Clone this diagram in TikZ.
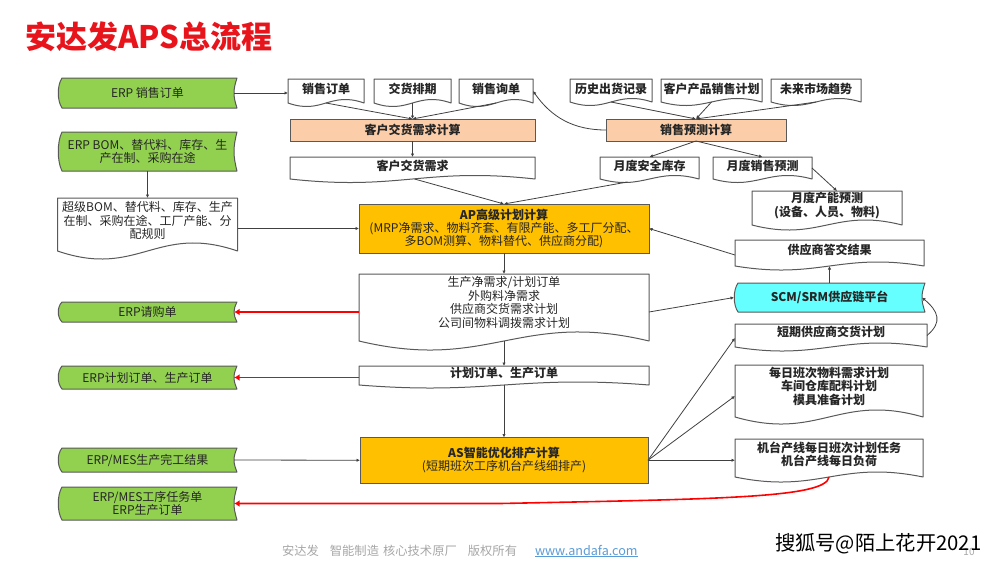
\documentclass[tikz,border=0pt]{standalone}
\usepackage{fontspec}
\setmainfont{Noto Sans CJK SC}
\usetikzlibrary{arrows.meta,positioning,calc,backgrounds}

\definecolor{linegray}{HTML}{595959}
\definecolor{arrowgray}{HTML}{404040}
\definecolor{tapegreen}{HTML}{92D050}
\definecolor{scmcyan}{HTML}{66FFFF}
\definecolor{calcpeach}{HTML}{FBCEA9}
\definecolor{calcorange}{HTML}{FFC000}
\definecolor{titlered}{HTML}{E8141C}
\definecolor{footgray}{HTML}{A6A6A6}
\definecolor{linkblue}{HTML}{5B9BD5}

\begin{document}
\begin{tikzpicture}[x=1pt, y=-1pt, align=center, inner sep=0pt, outer sep=0pt
    , font=\fontsize{12}{13.4}\selectfont, text=black!85]
    \tikzset{
        sz/.style 2 args    =   { minimum width=#1pt
                                , minimum height=#2pt
        }
        , up/.style         =   { text depth=#1pt
        }
        , bold/.style       =   { font=\fontsize{12}{13.4}\selectfont\bfseries
        }
        , doc/.style        =   { append after command={\pgfextra{\let\LN\tikzlastnode
              \begin{pgfonlayer}{background}
              \draw[linegray, line width=1pt, fill=white, line join=round]
                  (\LN.north west) -- (\LN.north east) -- (\LN.south east)
                  .. controls ($(\LN.south west)!.55!(\LN.south east)+(0,{-3.47*#1})$)
                  and ($(\LN.south west)!.45!(\LN.south east)+(0,{3.47*#1})$)
                  .. (\LN.south west) -- cycle;
              \end{pgfonlayer}}}
        }
        , doc/.default      =   3.5
        , tape/.style       =   { append after command={\pgfextra{\let\LN\tikzlastnode
              \begin{pgfonlayer}{background}
              \draw[linegray, line width=1pt, fill=#1, line join=round]
                  ($(\LN.north west)+(1,0)$) -- ($(\LN.north east)+(3,0)$)
                  .. controls ($(\LN.north east)!.4!(\LN.south east)+(-1,0)$)
                  and ($(\LN.north east)!.6!(\LN.south east)+(-1,0)$)
                  .. ($(\LN.south east)+(3,0)$) -- ($(\LN.south west)+(1,0)$)
                  .. controls ($(\LN.north west)!.75!(\LN.south west)+(-4,0)$)
                  and ($(\LN.north west)!.25!(\LN.south west)+(-4,0)$)
                  .. cycle;
              \end{pgfonlayer}}}
        }
        , tape/.default     =   tapegreen
        , calcbox/.style    =   { draw=linegray
                                , line width=1pt
                                , fill=#1
        }
        , arrow/.style      =   { draw=arrowgray
                                , line width=0.8pt
                                , -{Latex[length=3.5pt,width=3.5pt]}
        }
        , redarrow/.style   =   { draw=red
                                , line width=1.6pt
                                , -{Latex[length=5.5pt,width=6.5pt]}
        }
    }
    \useasboundingbox (0,0) rectangle (1004,565);

    \node(title)[anchor=west, text=titlered, font=\fontsize{31}{34}\selectfont\bfseries] at (25,37) {安达发APS总流程};

    \node(erpso)[tape, sz={173}{30}]        at (147.5,93)  {ERP 销售订单};
    \node(erpbom)[tape, sz={173}{39}]       at (147.5,151.5) {ERP BOM、替代料、库存、生\\产在制、采购在途};
    \node(super)[doc=8, up=9, sz={180}{53}] at (147.5,224.5) {超级BOM、替代料、库存、生产\\在制、采购在途、工厂产能、分\\配规则};
    \node(erppr)[tape, sz={173}{20}]        at (147.5,312) {ERP请购单};
    \node(erppl)[tape, sz={173}{23}]        at (147.5,377.5) {ERP计划订单、生产订单};
    \node(erpmes)[tape, sz={173}{24}]       at (147.5,460) {ERP/MES生产完工结果};
    \node(erptask)[tape, sz={173}{33}]      at (147.5,503.5) {ERP/MES工序任务单\\ERP生产订单};

    \node(so)[doc, up=5, bold, sz={76}{24}] at (326,91)    {销售订单};
    \node(dd)[doc, up=5, bold, sz={77}{24}, right=10pt of so]    {交货排期};
    \node(sq)[doc, up=5, bold, sz={74}{24}, right=8pt of dd]     {销售询单};
    \node(dcalc)[calcbox=calcpeach, bold, sz={245}{22}] at (412.5,130) {客户交货需求计算};
    \node(dneed)[doc, up=5, bold, sz={245}{22}, below=16pt of dcalc] {客户交货需求};
    \node(ap)[calcbox=calcorange, sz={290}{49}] at (504,228.5) {{\bfseries AP高级计划计算}\\(MRP净需求、物料齐套、有限产能、多工厂分配、\\多BOM测算、物料替代、供应商分配)};
    \node(net)[doc=9, up=11, sz={290}{67}, below=21pt of ap] {生产净需求/计划订单\\外购料净需求\\供应商交货需求计划\\公司间物料调拨需求计划};
    \node(plan)[doc=3, up=7, bold, sz={290}{19}, below=25pt of net] {计划订单、生产订单};
    \node(as)[calcbox=calcorange, sz={288}{45.5}, below=52.5pt of plan] {{\bfseries AS智能优化排产计算}\\(短期班次工序机台产线细排产)};

    \node(hist)[doc, up=5, bold, sz={82}{23}] at (611,90.5) {历史出货记录};
    \node(cust)[doc, up=5, bold, sz={101}{23}, right=9pt of hist] {客户产品销售计划};
    \node(fut)[doc, up=5, bold, sz={90}{23}, right=9pt of cust]  {未来市场趋势};
    \node(fcalc)[calcbox=calcpeach, bold, sz={180}{22}] at (696,130) {销售预测计算};
    \node(ss)[doc, up=5, bold, sz={99}{22}] at (649.5,168) {月度安全库存};
    \node(ms)[doc, up=5, bold, sz={99}{22}, right=14pt of ss]    {月度销售预测};
    \node(cap)[doc=5, up=7, bold, sz={150}{34}]   at (827,208)   {月度产能预测\\(设备、人员、物料)};
    \node(conf)[doc=4, up=7, bold, sz={189}{26}]  at (829.5,253) {供应商答交结果};
    \node(scm)[tape=scmcyan, bold, sz={185}{29}] at (829.5,297.5) {SCM/SRM供应链平台};
    \node(sp)[doc=4, up=8, bold, sz={192}{23}]    at (831,335.5) {短期供应商交货计划};
    \node(dm)[doc=7, up=11, bold, sz={188}{52}]   at (829,391)   {每日班次物料需求计划\\车间仓库配料计划\\模具准备计划};
    \node(mt)[doc=5, up=9, bold, sz={188}{38}]    at (829,458)   {机台产线每日班次计划任务\\机台产线每日负荷};

    \node(foot)[anchor=west, text=footgray, font=\fontsize{12.3}{14}\selectfont] at (282,551) {安达发\hspace{11pt}智能制造\hspace{4pt}核心技术原厂\hspace{11pt}版权所有};
    \node(link)[anchor=west, text=linkblue, font=\fontsize{12.6}{14}\selectfont] at (535,551) {\underline{www.andafa.com}};
    \node(page)[text=footgray, font=\fontsize{10}{12}\selectfont] at (969,552) {10};
    \node(mark)[anchor=west, text=black, font=\fontsize{20.3}{22}\selectfont] at (775,544) {搜狐号@陌上花开2021};

    \coordinate(bend) at (500,503.5);

    \draw[arrow] (erpso.east) -- (so.west |- erpso.east);
    \draw[arrow] (so.south) -- (dcalc.north);
    \draw[arrow] (dd.south) -- (dcalc.north);
    \draw[arrow] (sq.south) -- (dcalc.north);
    \draw[arrow] (dcalc.south) -- (dneed.north);
    \draw[arrow] ([xshift=2pt]dneed.south) -- (ap.north);
    \draw[arrow] (erpbom.south) -- (super.north);
    \draw[arrow] (super.east |- ap.west) -- (ap.west);
    \draw[arrow] (ap.south) -- (net.north);
    \draw[arrow] (net.south) -- (plan.north);
    \draw[arrow] (plan.south) -- (as.north);
    \draw[arrow] (hist.south) -- (fcalc.north);
    \draw[arrow] (cust.south) -- (fcalc.north);
    \draw[arrow] (fut.south) -- (fcalc.north);
    \draw[arrow] (fcalc.west) to[out=180, in=-55] (sq.east);
    \draw[arrow] (fcalc.south) -- (ss.north);
    \draw[arrow] (fcalc.south) -- (ms.north);
    \draw[arrow] ([xshift=-22pt,yshift=-3pt]ss.south) -- (ap.north);
    \draw[arrow] (ms.east) -- ([xshift=10pt]cap.north);
    \draw[arrow] ([yshift=-2pt]conf.west) -- (ap.east);
    \draw[arrow] (scm.north) -- (conf.south);
    \draw[arrow] ([yshift=-4.5pt]net.east) -- ([xshift=-3pt]scm.west);
    \draw[arrow] (sp.east) to[out=40, in=-40, looseness=1.4] (scm.east);
    \draw[arrow] (erpmes.east) -- (as.west);
    \draw[arrow] (as.east) -- ([yshift=-2.5pt]sp.west);
    \draw[arrow] (as.east) -- ([yshift=-5pt]dm.west);
    \draw[arrow] (as.east) -- (mt.west |- as.east);

    \draw[redarrow] (erppr.east -| net.west) -- (erppr.east);
    \draw[redarrow] (erppl.east -| plan.west) -- (erppl.east);
    \draw[redarrow] (mt.south) .. controls (826,498) and (720,499) .. (bend) -- (erptask.east);
\end{tikzpicture}
\end{document}
